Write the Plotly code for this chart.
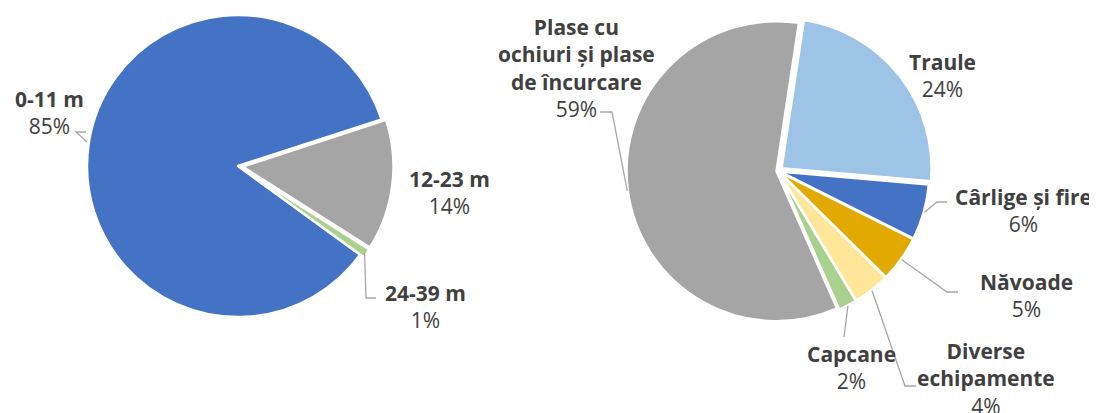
import math
import plotly.graph_objects as go

W, H = 1097, 413
OFF = 8  # default page body margin
FW, FH = W - OFF, H - OFF

# ---- data ----
vessel_labels = ["0-11 m", "12-23 m", "24-39 m"]
vessel_pct = [85, 14, 1]
vessel_colors = ["#4472C4", "#A5A5A5", "#A9D18E"]

gear_labels = ["Traule", "Cârlige și fire", "Năvoade", "Diverse<br>echipamente",
               "Capcane", "Plase cu<br>ochiuri și plase<br>de încurcare"]
gear_pct = [24, 6, 5, 4, 2, 59]
gear_colors = ["#9DC3E6", "#4472C4", "#E2AA00", "#FFE699", "#A9D18E", "#A5A5A5"]

# ---- layout constants (screen pixels) ----
L_CX, L_CY, L_R, L_ROT = 238, 166, 151, 126
L_PULL = [0, 0.03, 0.03]
R_CX, R_CY, R_R, R_ROT = 778, 171, 150, 8.6
R_PULL = [0.03, 0.01, 0.01, 0.01, 0.01, 0.01]

FONT = "Open Sans"
TXT = "#404040"
LINE = "#A6A6A6"


def px(x):
    return (x - OFF) / FW


def py(y):
    return 1 - (y - OFF) / FH


def domain(cx, cy, r, pulls):
    R = r * (1 + max(pulls))
    return dict(x=[px(cx - R), px(cx + R)], y=[py(cy + R), py(cy - R)])


def anchor(vals, i, rot, cx, cy, r):
    tot = sum(vals)
    start = rot + 360 * sum(vals[:i]) / tot
    a = math.radians(start + 180 * vals[i] / tot)
    return (cx + r * math.sin(a), cy - r * math.cos(a))


fig = go.Figure()
fig.add_trace(go.Pie(labels=vessel_labels, values=vessel_pct, sort=False,
                     direction="clockwise", rotation=L_ROT, pull=L_PULL,
                     marker=dict(colors=vessel_colors, line=dict(color="white", width=2.5)),
                     textinfo="none", hoverinfo="label+percent",
                     domain=domain(L_CX, L_CY, L_R, L_PULL)))
fig.add_trace(go.Pie(labels=gear_labels, values=gear_pct, sort=False,
                     direction="clockwise", rotation=R_ROT, pull=R_PULL,
                     marker=dict(colors=gear_colors, line=dict(color="white", width=2.5)),
                     textinfo="none", hoverinfo="label+percent",
                     domain=domain(R_CX, R_CY, R_R, R_PULL)))

# label centres (pixels) and leader-line elbows
vessel_pos = [(49, 112), (449, 192), (426, 306)]
vessel_lead = [[(76, 132), (86, 132)], None, [(366, 298), (376, 298)]]
gear_pos = [(942, 76), (1023, 210), (1026, 295), (986, 378), (851, 367), (576, 68)]
gear_lead = [None, [(937, 202), (947, 202)], [(947, 292), (958, 292)],
             [(905, 386), (916, 386)], [(844, 337)], [(612, 112), (600, 112)]]

annotations = []
shapes = []


def add_labels(labels, vals, pos, leads, rot, cx, cy, r):
    for i, (lab, v) in enumerate(zip(labels, vals)):
        x, y = pos[i]
        annotations.append(dict(
            x=px(x), y=py(y), xref="paper", yref="paper", showarrow=False,
            xanchor="center", yanchor="middle", align="center",
            text=f"<b>{lab}</b><br>{v}%",
            font=dict(family=FONT, size=21, color=TXT)))
        if leads[i]:
            ax, ay = anchor(vals, i, rot, cx, cy, r + 2)
            pts = [(ax, ay)] + leads[i]
            path = "M " + " L ".join(f"{px(a):.5f},{py(b):.5f}" for a, b in pts)
            shapes.append(dict(type="path", path=path, xref="paper", yref="paper",
                               line=dict(color=LINE, width=1.3)))


add_labels(vessel_labels, vessel_pct, vessel_pos, vessel_lead, L_ROT, L_CX, L_CY, L_R)
add_labels(gear_labels, gear_pct, gear_pos, gear_lead, R_ROT, R_CX, R_CY, R_R)

fig.update_layout(width=FW, height=FH, margin=dict(l=0, r=0, t=0, b=0),
                  paper_bgcolor="white", plot_bgcolor="white", showlegend=False,
                  annotations=annotations, shapes=shapes,
                  font=dict(family=FONT, color=TXT))

fig.write_html("out.html")
